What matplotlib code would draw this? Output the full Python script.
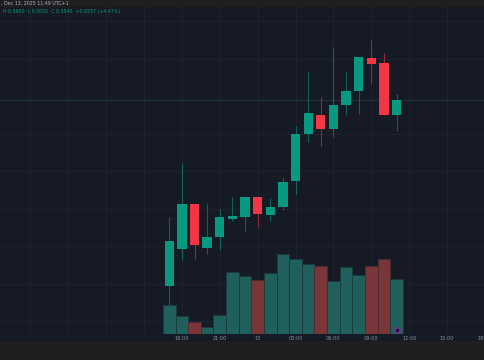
import matplotlib
matplotlib.use("Agg")
import matplotlib.pyplot as plt
from matplotlib.patches import Rectangle

# ---- data (hourly candles, Dec 12 17:00 -> Dec 13 11:00) ----
hours = list(range(19))
opens  = [0.2564, 0.3151, 0.3876, 0.3177, 0.3353, 0.3636, 0.3673, 0.3988, 0.3705, 0.3823,
          0.4249, 0.5001, 0.5300, 0.5076, 0.5455, 0.5679, 0.6207, 0.6127, 0.5300]
highs  = [0.3663, 0.4527, 0.3890, 0.3887, 0.3791, 0.3993, 0.3988, 0.3988, 0.3977, 0.4313,
          0.5124, 0.5999, 0.5593, 0.6383, 0.6009, 0.6228, 0.6500, 0.6287, 0.5636]
lows   = [0.2223, 0.2980, 0.2996, 0.3076, 0.3140, 0.3609, 0.3439, 0.3513, 0.3609, 0.3780,
          0.4036, 0.4873, 0.4804, 0.4943, 0.5300, 0.5316, 0.5807, 0.5300, 0.5049]
closes = [0.3284, 0.3876, 0.3220, 0.3353, 0.3673, 0.3684, 0.3988, 0.3711, 0.3828, 0.4223,
          0.5001, 0.5332, 0.5076, 0.5460, 0.5684, 0.6228, 0.6121, 0.5300, 0.5540]
volumes = [87, 53, 35, 21, 58, 185, 173, 162, 183, 241, 225, 210, 205, 159, 200, 176, 204, 225, 165]

tick_pos = [1, 4, 7, 10, 13, 16, 19, 22, 25]
tick_labels = ["18:00", "21:00", "13", "03:00", "06:00", "09:00", "12:00", "15:00", "18:00"]

header_text = ", Dec 13, 2025 11:49 UTC+1"
ohlc_text = "H 0.5600  L 0.5050  C 0.5540  +0.0237 (+4.47%)"

# ---- style ----
BG = "#161a25"
BAND = "#1f1f1f"
UP = "#089981"
DOWN = "#f23645"
VUP = "#1f5f5c"
VDOWN = "#7a3538"
GRID = "#1e2230"

W, H = 485, 360
fig = plt.figure(figsize=(W / 100, H / 100), dpi=100, facecolor=BG)

top_px, bot_px = 7, 334
ax = fig.add_axes([0, 1 - bot_px / H, 1, (bot_px - top_px) / H])
ax.set_facecolor(BG)
axv = ax.twinx()
axv.set_zorder(ax.get_zorder() + 1)
axv.patch.set_visible(False)

xmin, xmax = -13.4, 25.0
ax.set_xlim(xmin, xmax)
axv.set_xlim(xmin, xmax)
ax.set_ylim(0.1796, 0.7028)
axv.set_ylim(0, max(volumes) * 4.07)

# grid (price axes, behind volume)
for t in tick_pos + [-2, -5, -8, -11]:
    ax.axvline(t, color=GRID, lw=0.8, zorder=0)
for p in [0.2, 0.26, 0.32, 0.38, 0.44, 0.50, 0.62, 0.68]:
    ax.axhline(p, color=GRID, lw=0.8, zorder=0)
ax.axhline(closes[-1], color="#1b3236", lw=0.8, zorder=0)

# volume
for h, o, c, v in zip(hours, opens, closes, volumes):
    up = c >= o
    axv.bar(h, v, width=1.0, color=VUP if up else VDOWN,
            edgecolor="#1a3a3c" if up else "#4a2a30", linewidth=0.6, zorder=2)

# candles (drawn in the volume axes' layer via price axes transform)
for h, o, hi, lo, c in zip(hours, opens, highs, lows, closes):
    col = UP if c >= o else DOWN
    ax.vlines(h, lo, hi, color=col, lw=0.8, alpha=0.55, zorder=3)
    bottom = min(o, c)
    height = max(abs(c - o), 0.0012)
    ax.bar(h, height, bottom=bottom, width=0.74, color=col, linewidth=0, zorder=4)

# event marker
axv.scatter([18.0], [max(volumes) * 4.07 * 0.013], s=14, facecolor="#2a1430",
            edgecolor="#9c27b0", linewidth=0.8, zorder=5)

for a in (ax, axv):
    for s in a.spines.values():
        s.set_visible(False)
axv.set_yticks([])
ax.set_yticks([])
ax.set_xticks(tick_pos)
ax.set_xticklabels(tick_labels, fontsize=3.6, color="#8c8f99")
ax.tick_params(axis="x", length=0, pad=1.2)

# bands
fig.patches.append(Rectangle((0, 1 - 6.5 / H), 1, 6.5 / H, transform=fig.transFigure,
                             facecolor=BAND, edgecolor="none", zorder=-1))
fig.patches.append(Rectangle((0, 0), 1, (H - 341) / H, transform=fig.transFigure,
                             facecolor=BAND, edgecolor="none", zorder=-1))

fig.text(1 / W, 1 - 3.5 / H, header_text, fontsize=3.4, color="#b0b3bc", va="center", ha="left")
fig.text(3 / W, 1 - 12 / H, ohlc_text, fontsize=3.4, color=UP, va="center", ha="left")

fig.savefig("out.png", dpi=100, facecolor=BG)
